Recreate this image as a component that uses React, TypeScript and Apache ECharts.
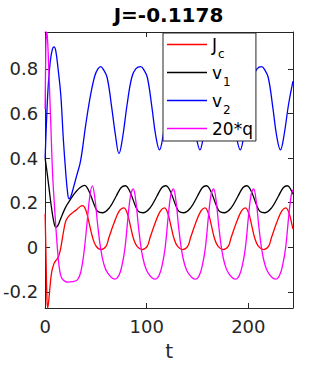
import React, { useEffect, useRef } from "react";
import * as echarts from "echarts";

// ---- data (t, value) ----
const jcData: [number, number][] = [
  [0, 0.15], [0.8, -0.02], [1.6, -0.2], [2.4, -0.272], [3.3, -0.25], [4.9, -0.173], [6, -0.125], [7.2, -0.095],
  [9, -0.07], [10.5, -0.06], [12, -0.05], [13.7, -0.035], [15.5, 0.0], [17, 0.04], [18.7, 0.085], [20.3, 0.117],
  [22.5, 0.135], [25.2, 0.148], [28.5, 0.16], [31.8, 0.172], [34.5, 0.183], [36.9, 0.187],
  [40.2, 0.165], [43.5, 0.105], [46.7, 0.045], [50, 0.006], [54.9, -0.01], [59.9, 0.004], [62.9, 0.045], [67.9, 0.11], [72.9, 0.162], [77.4, 0.177],
  [80.7, 0.155], [84, 0.095], [87.2, 0.036], [90.5, 0.004], [95.4, -0.01], [100.4, 0.004], [103.4, 0.045], [108.4, 0.11], [113.4, 0.162], [117.3, 0.177],
  [120.6, 0.155], [123.9, 0.095], [127.1, 0.036], [130.4, 0.004], [135.3, -0.01], [140.3, 0.004], [143.3, 0.045], [148.3, 0.11], [153.3, 0.162], [157.2, 0.177],
  [160.5, 0.155], [163.8, 0.095], [167, 0.036], [170.3, 0.004], [175.2, -0.01], [180.2, 0.004], [183.2, 0.045], [188.2, 0.11], [193.2, 0.162], [196.9, 0.177],
  [200.2, 0.155], [203.5, 0.095], [206.7, 0.036], [210, 0.004], [214.9, -0.01], [219.9, 0.004], [222.9, 0.045], [227.9, 0.11], [232.9, 0.162], [236.7, 0.177],
  [240, 0.155], [243.3, 0.095], [244, 0.082],
];

const v1Data: [number, number][] = [
  [0, 0.4], [1.2, 0.36], [2.4, 0.318], [4, 0.26], [5.6, 0.2], [7.5, 0.14], [9, 0.105], [10.5, 0.089], [12.5, 0.097],
  [15, 0.125], [20, 0.178], [25, 0.215], [30, 0.247], [34.5, 0.268], [38.9, 0.278],
  [41, 0.27], [43.9, 0.245], [48.9, 0.184], [51.9, 0.16], [56.3, 0.155], [63.4, 0.178], [69.9, 0.229], [74.9, 0.268], [79, 0.276],
  [81, 0.27], [84, 0.245], [89, 0.184], [92, 0.16], [96.4, 0.155], [103.5, 0.178], [110, 0.229], [115, 0.268], [118.9, 0.276],
  [120.9, 0.27], [123.9, 0.245], [128.9, 0.184], [131.9, 0.16], [136.3, 0.155], [143.4, 0.178], [149.9, 0.229], [154.9, 0.268], [158.8, 0.276],
  [160.8, 0.27], [163.8, 0.245], [168.8, 0.184], [171.8, 0.16], [176.2, 0.155], [183.3, 0.178], [189.8, 0.229], [194.8, 0.268], [198.6, 0.276],
  [200.6, 0.27], [203.6, 0.245], [208.6, 0.184], [211.6, 0.16], [216, 0.155], [223.1, 0.178], [229.6, 0.229], [234.6, 0.268], [238.4, 0.276],
  [240.4, 0.27], [243.4, 0.245], [244, 0.238],
];

const v2Data: [number, number][] = [
  [0, 0.4], [1.5, 0.58], [3, 0.72], [5, 0.83], [7, 0.885], [8.8, 0.898], [10.5, 0.88], [13, 0.79], [15.4, 0.684],
  [18, 0.48], [20.3, 0.335], [22, 0.25], [23.5, 0.217], [25.5, 0.23], [28, 0.27], [31, 0.32], [35, 0.39], [40, 0.55],
  [44.8, 0.684], [49, 0.77], [52, 0.8], [54.6, 0.81],
  [57.6, 0.795], [61.1, 0.76], [65.6, 0.625], [69.3, 0.5], [72.7, 0.42], [76.2, 0.49], [80.7, 0.64], [85.2, 0.76], [89.2, 0.8], [94.2, 0.81],
  [97.2, 0.795], [100.7, 0.76], [105.2, 0.625], [108.9, 0.5], [112.6, 0.437], [116.1, 0.5], [120.6, 0.64], [125.1, 0.76], [129.1, 0.8], [133.9, 0.81],
  [136.9, 0.795], [140.4, 0.76], [144.9, 0.625], [148.6, 0.5], [152.4, 0.437], [155.9, 0.5], [160.4, 0.64], [164.9, 0.76], [168.9, 0.8], [173.5, 0.81],
  [176.5, 0.795], [180, 0.76], [184.5, 0.625], [188.2, 0.5], [192.1, 0.437], [195.6, 0.5], [200.1, 0.64], [204.6, 0.76], [208.6, 0.8], [213.2, 0.81],
  [216.2, 0.795], [219.7, 0.76], [224.2, 0.625], [227.9, 0.5], [231.6, 0.437], [235.1, 0.5], [239.6, 0.64], [244, 0.745],
];

const q20Data: [number, number][] = [
  [0, 0.62], [0.6, 0.85], [1.4, 0.965], [2.4, 0.93], [4, 0.75], [5.6, 0.55], [7.3, 0.335], [9, 0.2], [10.5, 0.095],
  [12, 0.0], [13.7, -0.083], [15.3, -0.125], [17, -0.143], [19.5, -0.152], [22, -0.156], [27, -0.154], [31.8, -0.146],
  [35, -0.113], [38.2, -0.024], [41.5, 0.12], [44, 0.23], [46.5, 0.275],
  [49, 0.22], [51.5, 0.11], [54.5, 0.0], [57.5, -0.07], [61.5, -0.115], [68.5, -0.143],
  [72.7, -0.125], [75.7, -0.08], [78.7, 0.0], [81.7, 0.14], [84.2, 0.235], [86.7, 0.262], [89.2, 0.21], [91.7, 0.1], [94.7, -0.01], [97.7, -0.075], [101.7, -0.118], [108.3, -0.143],
  [112.2, -0.125], [115.2, -0.08], [118.2, 0.0], [121.2, 0.14], [123.7, 0.235], [126.2, 0.262], [128.7, 0.21], [131.2, 0.1], [134.2, -0.01], [137.2, -0.075], [141.2, -0.118], [148, -0.143],
  [151.8, -0.125], [154.8, -0.08], [157.8, 0.0], [160.8, 0.14], [163.3, 0.235], [165.8, 0.262], [168.3, 0.21], [170.8, 0.1], [173.8, -0.01], [176.8, -0.075], [180.8, -0.118], [187.5, -0.143],
  [191.2, -0.125], [194.2, -0.08], [197.2, 0.0], [200.2, 0.14], [202.7, 0.235], [205.2, 0.262], [207.7, 0.21], [210.2, 0.1], [213.2, -0.01], [216.2, -0.075], [220.2, -0.118], [227, -0.143],
  [230.8, -0.125], [233.8, -0.08], [236.8, 0.0], [239.8, 0.14], [242.3, 0.235], [244, 0.258],
];

const seriesNames = ["Jc", "v1", "v2", "20*q"];
const seriesColors = ["#ff0000", "#000000", "#0000ff", "#ff00ff"];
const legendLabels: Record<string, string> = {
  Jc: "{m|J}{s|c}",
  v1: "{m|v}{s|1}",
  v2: "{m|v}{s|2}",
  "20*q": "{m|20*q}",
};
const titleText = "J=-0.1178";
const xName = "t";
const xRange = [0, 244];
const yRange = [-0.272, 0.965];

const FONT = "DejaVu Sans";
const AX = "#262626";

export default function App() {
  const ref = useRef<HTMLDivElement>(null);
  useEffect(() => {
    const chart = echarts.init(ref.current!, null, { renderer: "svg" });
    const datasets = [jcData, v1Data, v2Data, q20Data];
    const baseX = {
      type: "value",
      min: xRange[0],
      max: xRange[1],
      interval: 100,
      splitLine: { show: false },
      axisLine: { show: true, onZero: false, lineStyle: { color: AX, width: 1 } },
      axisTick: { show: true, inside: true, length: 5, lineStyle: { color: AX } },
    };
    const baseY = {
      type: "value",
      min: yRange[0],
      max: yRange[1],
      splitNumber: 5,
      splitLine: { show: false },
      axisLine: { show: true, onZero: false, lineStyle: { color: AX, width: 1 } },
      axisTick: { show: true, inside: true, length: 5, lineStyle: { color: AX } },
    };
    chart.setOption({
      animation: false,
      backgroundColor: "#ffffff",
      textStyle: { fontFamily: FONT },
      title: {
        text: titleText,
        left: 168.5,
        top: 5,
        padding: 0,
        textAlign: "center",
        textVerticalAlign: "top",
        textStyle: { fontFamily: FONT, fontWeight: "bold", fontSize: 20, color: "#000" },
      },
      grid: { left: 44, right: 32, top: 32, bottom: 57, containLabel: false },
      xAxis: [
        {
          ...baseX,
          position: "bottom",
          name: xName,
          nameLocation: "middle",
          nameGap: 33,
          nameTextStyle: { fontFamily: FONT, fontSize: 20, color: AX },
          axisLabel: { show: true, margin: 9, fontSize: 18, color: AX, fontFamily: FONT, showMaxLabel: false },
        },
        { ...baseX, position: "top", axisLabel: { show: false } },
      ],
      yAxis: [
        {
          ...baseY,
          position: "left",
          axisLabel: { show: true, margin: 7, fontSize: 18, color: AX, fontFamily: FONT, showMinLabel: false, showMaxLabel: false },
        },
        { ...baseY, position: "right", axisLabel: { show: false } },
      ],
      legend: {
        orient: "vertical",
        left: 163,
        top: 33,
        z: 20,
        padding: [3, 3, 4, 4],
        itemGap: 4,
        itemWidth: 40,
        itemHeight: 1.5,
        icon: "rect",
        backgroundColor: "#ffffff",
        borderColor: AX,
        borderWidth: 1,
        borderRadius: 0,
        data: seriesNames,
        formatter: (name: string) => legendLabels[name],
        textStyle: {
          color: "#000",
          fontFamily: FONT,
          rich: {
            m: { fontSize: 17, fontFamily: FONT, color: "#000", lineHeight: 17, verticalAlign: "top" },
            s: { fontSize: 12, fontFamily: FONT, color: "#000", lineHeight: 12, verticalAlign: "top", padding: [12, 0, 0, 1] },
          },
        },
      },
      series: seriesNames.map((name, i) => ({
        name,
        type: "line",
        xAxisIndex: 0,
        yAxisIndex: 0,
        data: datasets[i],
        smooth: 0.4,
        showSymbol: false,
        symbol: "none",
        clip: true,
        lineStyle: { color: seriesColors[i], width: 1.3 },
        itemStyle: { color: seriesColors[i] },
        z: 2,
      })),
    });
    return () => chart.dispose();
  }, []);
  return <div ref={ref} style={{ position: "fixed", left: 0, top: 0, width: 325, height: 366 }} />;
}
